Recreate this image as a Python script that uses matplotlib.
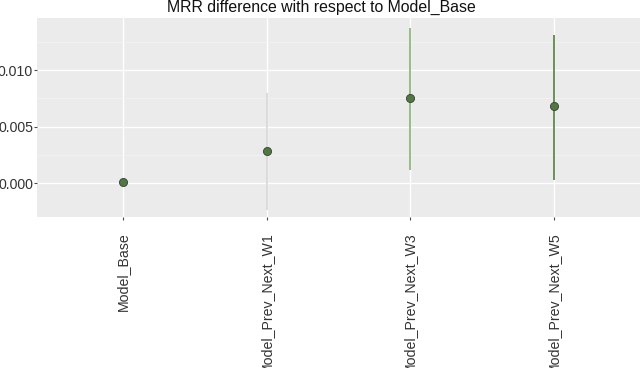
import matplotlib
matplotlib.use("Agg")
import matplotlib.pyplot as plt
import numpy as np

plt.rcParams['font.family'] = ['Liberation Sans', 'DejaVu Sans']

# data
models = ['Model_Base', 'Model_Prev_Next_W1', 'Model_Prev_Next_W3', 'Model_Prev_Next_W5']
diff = [0.0001, 0.0028, 0.0075, 0.0068]
ci_low = [0.0001, -0.0024, 0.00115, 0.00027]
ci_high = [0.0001, 0.0080, 0.0137, 0.0131]
bar_colors = ['#d9d9d9', '#d9d9d9', '#8fb87e', '#5b8a4b']

fig = plt.figure(figsize=(6.4, 3.68), dpi=100)
ax = fig.add_axes([37 / 640, 1 - 217 / 368, 1 - 37 / 640, 199 / 368])
ax.set_facecolor('#ebebeb')

x = np.arange(len(models))
for xi, lo, hi, c in zip(x, ci_low, ci_high, bar_colors):
    ax.vlines(xi, lo, hi, color=c, lw=1.3, zorder=3)
ax.scatter(x, diff, s=34, color='#4e7a3e', edgecolor='#3a3a3a', lw=0.6, zorder=4)

ax.set_xlim(-0.6, len(models) - 0.4)
ax.set_ylim(-0.0030, 0.0146)
ax.set_yticks([0.0, 0.005, 0.010])
ax.set_yticklabels(['0.000', '0.005', '0.010'])
ax.set_yticks([0.0025, 0.0075, 0.0125], minor=True)
ax.set_xticks(x)
ax.set_xticklabels(models, rotation=90, va='top', ha='center')

ax.grid(which='major', color='white', lw=1.0)
ax.grid(which='minor', axis='y', color='#f5f5f5', lw=0.5)
ax.set_axisbelow(True)
for s in ax.spines.values():
    s.set_visible(False)
ax.tick_params(axis='both', which='major', length=2.2, color='#4d4d4d',
               labelsize=10.2, labelcolor='#333333')
ax.tick_params(axis='y', which='major', pad=0.6)
ax.tick_params(axis='x', which='major', pad=9)
ax.tick_params(axis='y', which='minor', length=0)

fig.text(0.502, 1 - 12 / 368, 'MRR difference with respect to Model_Base',
         ha='center', va='baseline', fontsize=11.4, color='#111111')

fig.savefig('out.png', dpi=100)
